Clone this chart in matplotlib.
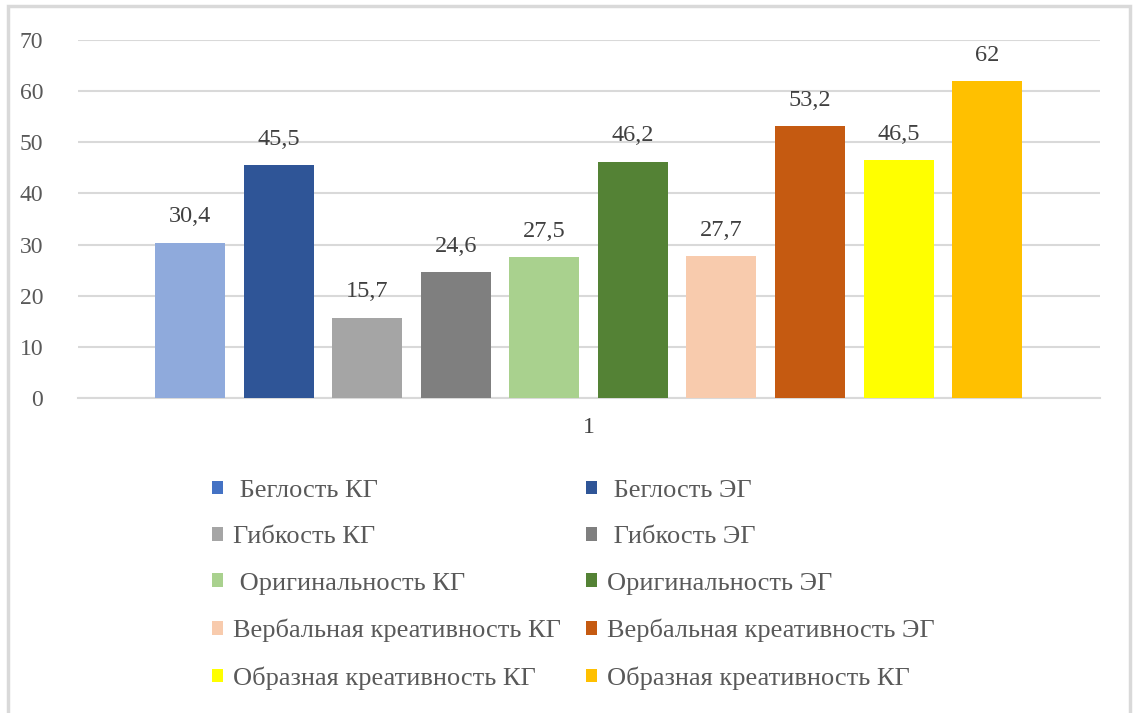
import matplotlib
matplotlib.use("Agg")
import matplotlib.pyplot as plt
from matplotlib.patches import Patch, Rectangle

# --- data ---
labels = [" Беглость КГ", " Беглость ЭГ", "Гибкость КГ", " Гибкость ЭГ",
          " Оригинальность КГ", "Оригинальность ЭГ",
          "Вербальная креативность КГ", "Вербальная креативность ЭГ",
          "Образная креативность КГ", "Образная креативность КГ"]
values = [30.4, 45.5, 15.7, 24.6, 27.5, 46.2, 27.7, 53.2, 46.5, 62]
value_text = ["30,4", "45,5", "15,7", "24,6", "27,5", "46,2", "27,7", "53,2", "46,5", "62"]
bar_colors = ["#8FAADC", "#2F5597", "#A5A5A5", "#7F7F7F", "#A9D18E",
              "#548235", "#F8CBAD", "#C55A11", "#FFFF00", "#FFC000"]
legend_colors = ["#4472C4"] + bar_colors[1:]
y_ticks = [0, 10, 20, 30, 40, 50, 60, 70]
category = "1"

W, H = 1134, 713
fig = plt.figure(figsize=(W / 100, H / 100), dpi=100)
fig.patch.set_facecolor("white")

# axes placed in pixel terms: x 78..1100, y 40..398 (top-origin)
ax = fig.add_axes([78 / W, 1 - 398 / H, (1100 - 78) / W, (398 - 40) / H])
x = list(range(len(values)))
bars = ax.bar(x, values, width=0.79, color=bar_colors, zorder=3)
for xi, v, t in zip(x, values, value_text):
    ax.text(xi, v + 3.0, t, ha="center", va="bottom", fontsize=17.5,
            family="Liberation Serif", color="#404040")

ax.set_xlim(-1.265, 10.275)
ax.set_ylim(0, 70)
ax.set_yticks(y_ticks)
ax.set_yticklabels([str(t) for t in y_ticks], fontsize=17, family="Liberation Serif",
                   color="#595959")
ax.tick_params(axis="y", length=0, pad=25)
ax.set_xticks([4.5])
ax.set_xticklabels([category], fontsize=17, family="Liberation Serif", color="#404040")
ax.tick_params(axis="x", length=0, pad=14)
ax.grid(axis="y", color="#D9D9D9", linewidth=1.5, zorder=0)
for s in ["top", "right", "left"]:
    ax.spines[s].set_visible(False)
ax.spines["bottom"].set_color("#D9D9D9")
ax.spines["bottom"].set_linewidth(1.5)

# legend: KG items in left column, EG in right
order = [0, 2, 4, 6, 8, 1, 3, 5, 7, 9]
handles = [Patch(facecolor=legend_colors[i], edgecolor="none") for i in order]
leg = fig.legend(handles, [labels[i] for i in order], ncol=2, frameon=False,
                 loc="upper left", bbox_to_anchor=(212 / W, 1 - 480 / H),
                 prop={"family": "Liberation Serif", "size": 19},
                 handlelength=0.4, handleheight=0.4, handletextpad=0.4,
                 columnspacing=0.95, labelspacing=0.92, borderaxespad=0,
                 borderpad=0)
for t in leg.get_texts():
    t.set_color("#595959")

# outer border
fig.patches.append(Rectangle((8 / W, -0.05), (1130 - 8) / W, 1.05 - 6 / H,
                             transform=fig.transFigure, fill=False,
                             edgecolor="#D9D9D9", linewidth=2.5))

fig.savefig("out.png", dpi=100)
